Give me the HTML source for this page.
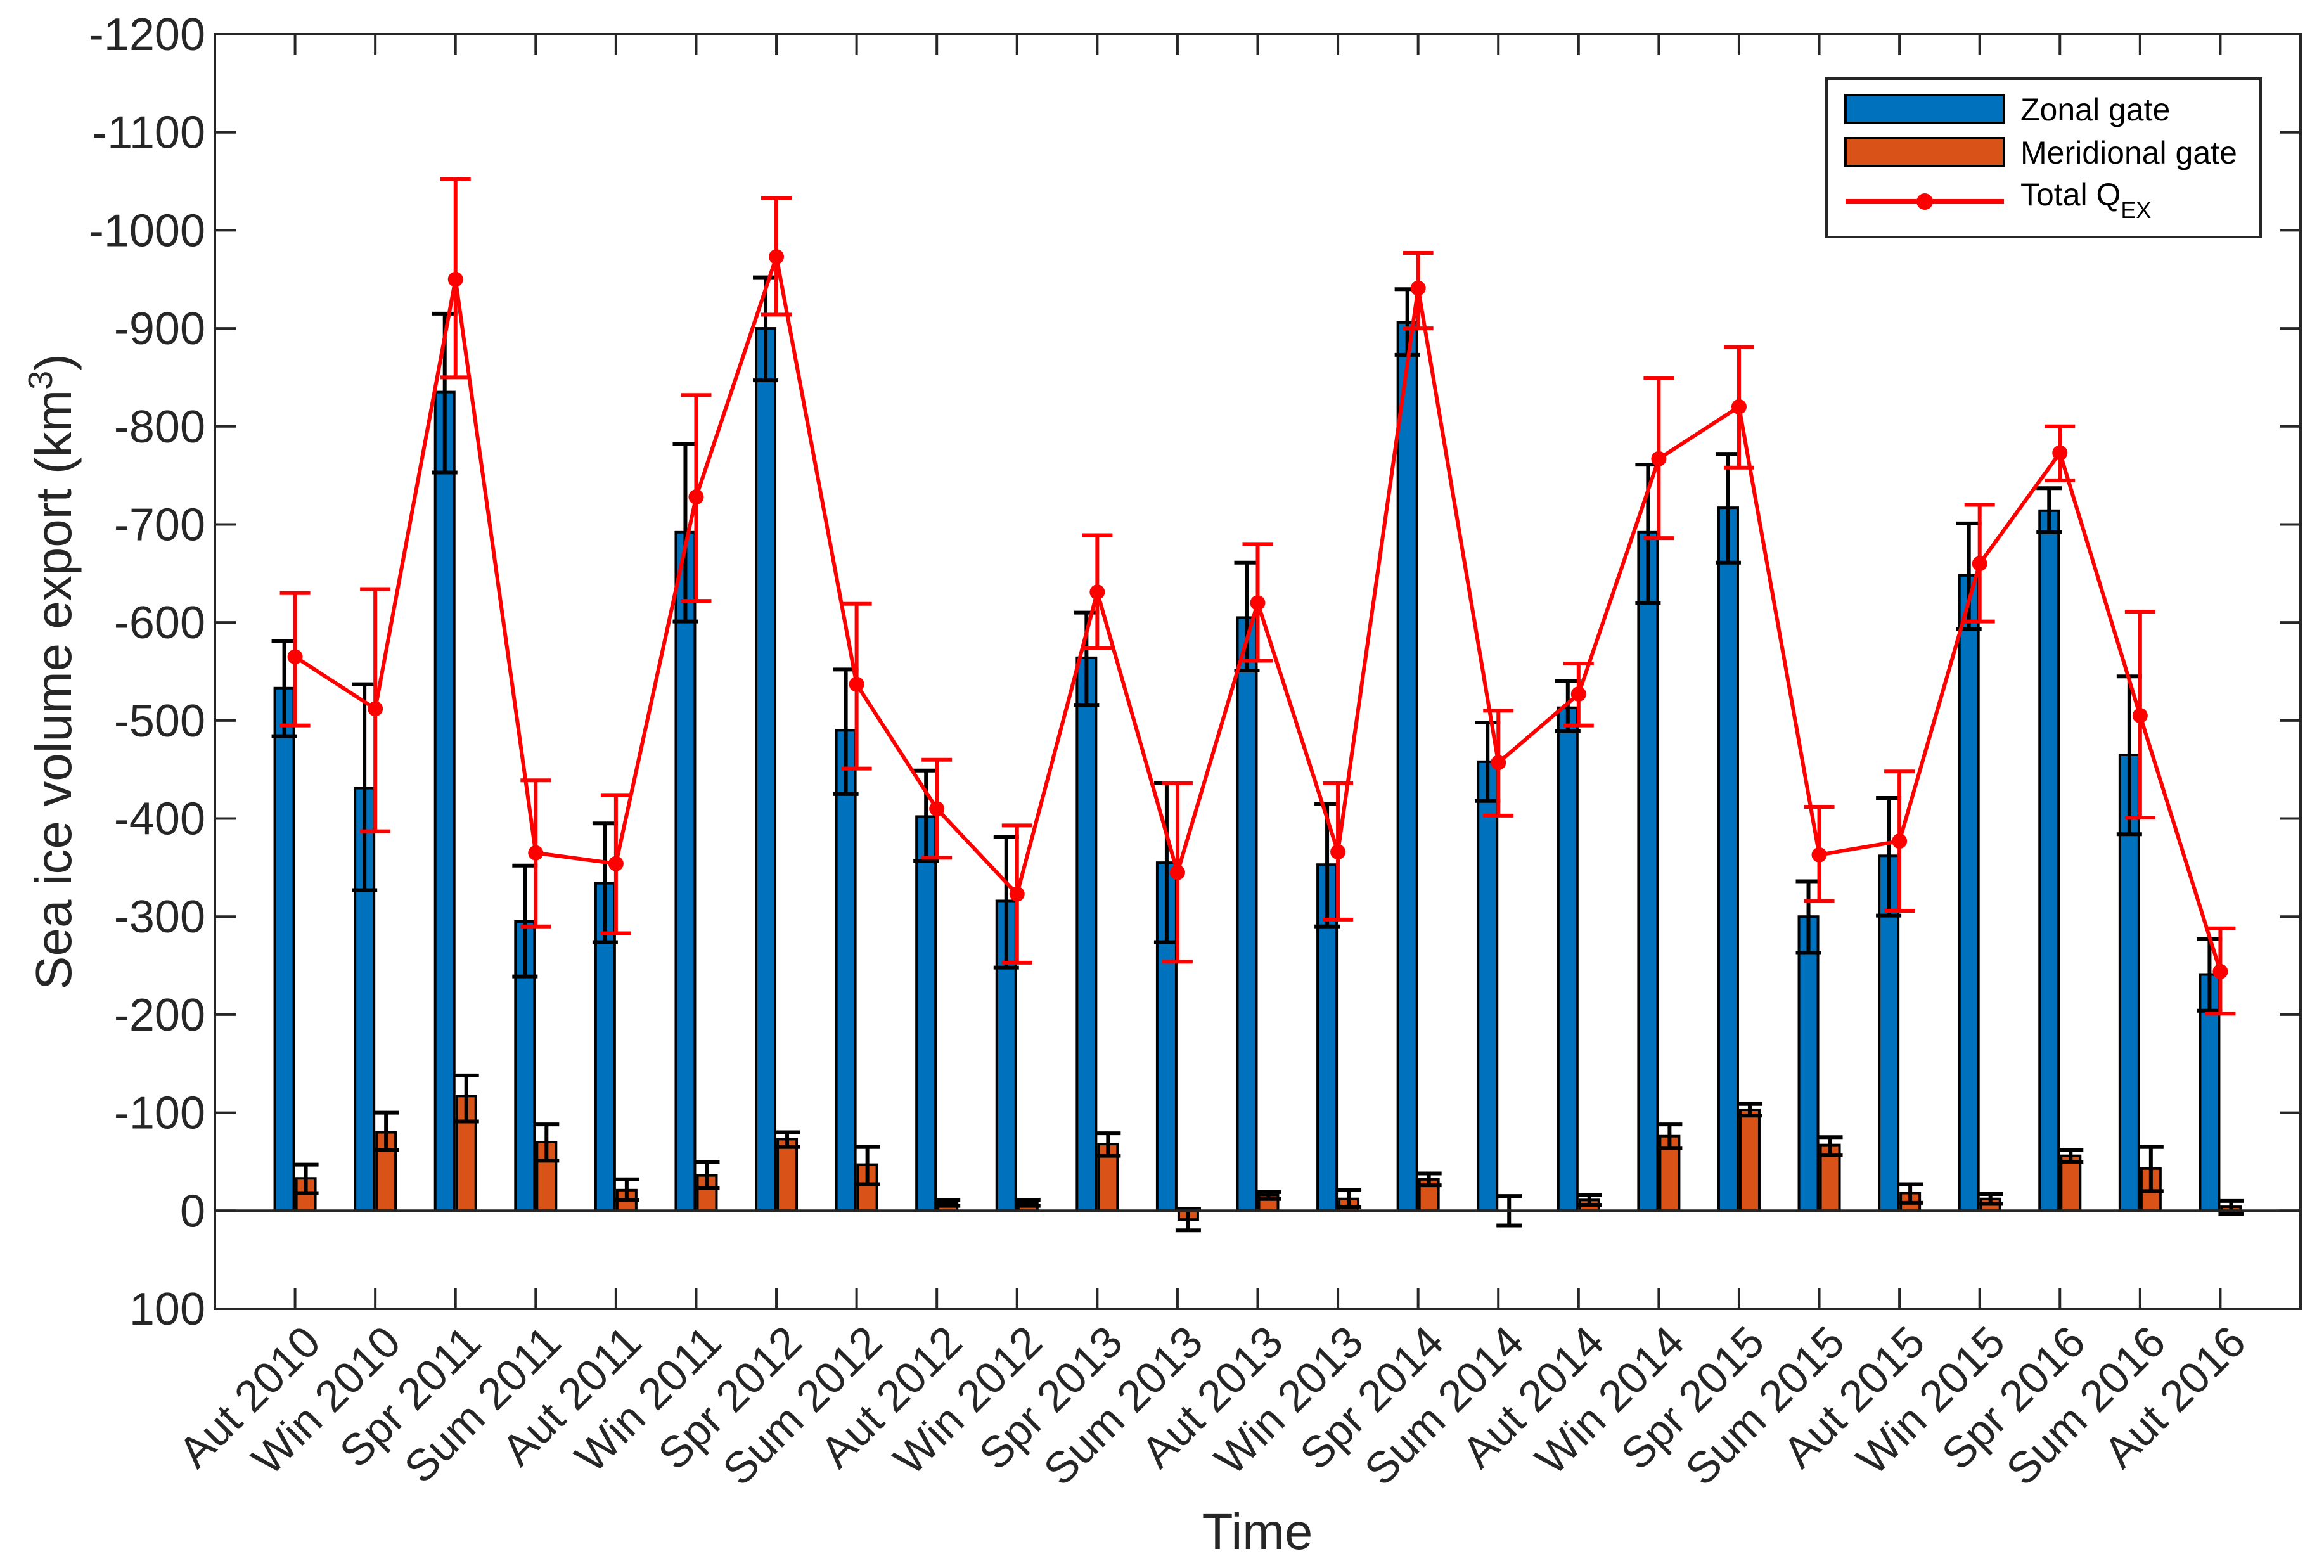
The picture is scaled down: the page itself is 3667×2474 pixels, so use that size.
<!DOCTYPE html>
<html><head><meta charset="utf-8"><style>
html,body{margin:0;padding:0;background:#fff;}
svg{display:block;font-family:"Liberation Sans",Arial,sans-serif;}
</style></head><body>
<svg id="chart" width="3667" height="2474" viewBox="0 0 3667 2474" xmlns="http://www.w3.org/2000/svg">
<rect x="0" y="0" width="3667" height="2474" fill="#fff"/>
<g id="marks"></g>
<g id="axes"></g>
<text transform="translate(112,1060) rotate(-90)" text-anchor="middle" font-size="80" fill="#262626">Sea ice volume export (km<tspan dy="-30" font-size="54">3</tspan><tspan dy="30">)</tspan></text>
<text x="1984" y="2444" text-anchor="middle" font-size="80" fill="#262626">Time</text>
<g>
<rect x="2882" y="124" width="685" height="250" fill="#fff" stroke="#262626" stroke-width="4"/>
<rect x="2912" y="150" width="250" height="44" fill="#0072BD" stroke="#000" stroke-width="4"/>
<text x="3188" y="190" font-size="50" fill="#000">Zonal gate</text>
<rect x="2912" y="218" width="250" height="44" fill="#D95319" stroke="#000" stroke-width="4"/>
<text x="3188" y="258" font-size="50" fill="#000">Meridional gate</text>
<line x1="2912" y1="318" x2="3162" y2="318" stroke="#ff0000" stroke-width="8"/>
<circle cx="3037" cy="318" r="13" fill="#ff0000"/>
<text x="3188" y="324" font-size="50" fill="#000">Total Q<tspan dy="20" font-size="36">EX</tspan></text>
</g>
</svg>
<script>
const categories = ["Aut 2010","Win 2010","Spr 2011","Sum 2011","Aut 2011","Win 2011","Spr 2012","Sum 2012","Aut 2012","Win 2012","Spr 2013","Sum 2013","Aut 2013","Win 2013","Spr 2014","Sum 2014","Aut 2014","Win 2014","Spr 2015","Sum 2015","Aut 2015","Win 2015","Spr 2016","Sum 2016","Aut 2016"];
const zonal = [-533,-431,-835,-295,-334,-692,-900,-490,-402,-316,-564,-355,-605,-353,-906,-458,-513,-692,-717,-300,-362,-648,-714,-465,-241];
const zonalHi = [-581,-537,-915,-352,-395,-782,-952,-552,-449,-381,-610,-436,-661,-415,-940,-498,-540,-761,-772,-336,-421,-701,-737,-545,-277];
const zonalLo = [-484,-327,-753,-239,-274,-601,-847,-425,-357,-248,-516,-274,-551,-290,-873,-418,-489,-620,-661,-263,-301,-593,-692,-384,-204];
const merid = [-33,-80,-117,-70,-21,-36,-73,-47,-8,-8,-68,9,-16,-12,-32,0,-11,-76,-103,-67,-18,-12,-56,-43,-4];
const meridHi = [-47,-100,-138,-88,-32,-50,-80,-65,-11,-11,-79,-2,-19,-21,-38,-15,-16,-88,-109,-75,-27,-17,-62,-65,-10];
const meridLo = [-18,-62,-91,-51,-11,-23,-65,-27,-5,-5,-56,20,-12,-4,-26,15,-6,-64,-97,-57,-8,-7,-50,-20,3];
const total = [-565,-512,-950,-365,-354,-728,-973,-537,-410,-323,-631,-345,-620,-366,-941,-457,-527,-767,-820,-363,-377,-660,-773,-505,-244];
const totalHi = [-630,-634,-1052,-439,-424,-832,-1033,-619,-460,-393,-689,-436,-680,-436,-977,-510,-558,-849,-881,-412,-448,-720,-800,-611,-288];
const totalLo = [-495,-387,-850,-290,-283,-622,-914,-451,-360,-253,-574,-254,-561,-297,-900,-403,-495,-686,-758,-316,-306,-601,-745,-401,-201];
const yTicks = [-1200,-1100,-1000,-900,-800,-700,-600,-500,-400,-300,-200,-100,0,100];

const NS="http://www.w3.org/2000/svg";
const L=339,R=3630,T=54,B=2065,yMin=-1200,yMax=100;
const step=(R-L)/(categories.length+1);
function xPos(i){return L+(i+1)*step;}
function yPos(v){return T+(v-yMin)/(yMax-yMin)*(B-T);}
function mk(tag,attrs,parent){const e=document.createElementNS(NS,tag);for(const k in attrs)e.setAttribute(k,attrs[k]);parent.appendChild(e);return e;}
const marks=document.getElementById('marks'), axes=document.getElementById('axes');
const bw=30, off=17;
function errBar(x,hi,lo,col,w,cap,name){
  const g=mk('g',{},marks);
  
  
  mk('line',{x1:x,x2:x,y1:yPos(hi),y2:yPos(lo),stroke:col,'stroke-width':w},g);
  mk('line',{x1:x-cap/2,x2:x+cap/2,y1:yPos(hi),y2:yPos(hi),stroke:col,'stroke-width':w},g);
  mk('line',{x1:x-cap/2,x2:x+cap/2,y1:yPos(lo),y2:yPos(lo),stroke:col,'stroke-width':w},g);
}
const y0=yPos(0);
categories.forEach((c,i)=>{
  const x=xPos(i);
  const zx=x-off, mx=x+off;
  const zb=mk('rect',{x:zx-bw/2,y:Math.min(yPos(zonal[i]),y0),width:bw,height:Math.abs(yPos(zonal[i])-y0),fill:'#0072BD',stroke:'#000','stroke-width':4},marks);
  
  
  const mb=mk('rect',{x:mx-bw/2,y:Math.min(yPos(merid[i]),y0),width:bw,height:Math.abs(yPos(merid[i])-y0),fill:'#D95319',stroke:'#000','stroke-width':4},marks);
  
  
  errBar(zx,zonalHi[i],zonalLo[i],'#000',6,40,'zonal-error-bar');
  errBar(mx,meridHi[i],meridLo[i],'#000',6,40,'meridional-error-bar');
});
const zl=mk('line',{x1:L,x2:R,y1:y0,y2:y0,stroke:'#262626','stroke-width':4},axes);


const pts=total.map((v,i)=>xPos(i)+','+yPos(v)).join(' ');
const pl=mk('polyline',{points:pts,fill:'none',stroke:'#ff0000','stroke-width':6,'stroke-linejoin':'round'},marks);


total.forEach((v,i)=>{
  errBar(xPos(i),totalHi[i],totalLo[i],'#ff0000',6,48,'total-error-bar');
  const c=mk('circle',{cx:xPos(i),cy:yPos(v),r:12,fill:'#ff0000'},marks);
  
  
});
const box=mk('rect',{x:L,y:T,width:R-L,height:B-T,fill:'none',stroke:'#262626','stroke-width':4},axes);


yTicks.forEach(v=>{
  const y=yPos(v);
  mk('line',{x1:L,x2:L+33,y1:y,y2:y,stroke:'#262626','stroke-width':4},axes);
  mk('line',{x1:R,x2:R-33,y1:y,y2:y,stroke:'#262626','stroke-width':4},axes);
  const t=mk('text',{x:324,y:y+25,'text-anchor':'end','font-size':72,fill:'#262626'},axes);
  
  
  t.textContent=v;
});
categories.forEach((c,i)=>{
  const x=xPos(i);
  mk('line',{x1:x,x2:x,y1:B,y2:B-33,stroke:'#262626','stroke-width':4},axes);
  mk('line',{x1:x,x2:x,y1:T,y2:T+33,stroke:'#262626','stroke-width':4},axes);
  const t=mk('text',{transform:'translate('+(x+44)+',2122) rotate(-45)','text-anchor':'end','font-size':70,fill:'#262626'},axes);
  
  
  t.textContent=c;
});
</script>
</body></html>
